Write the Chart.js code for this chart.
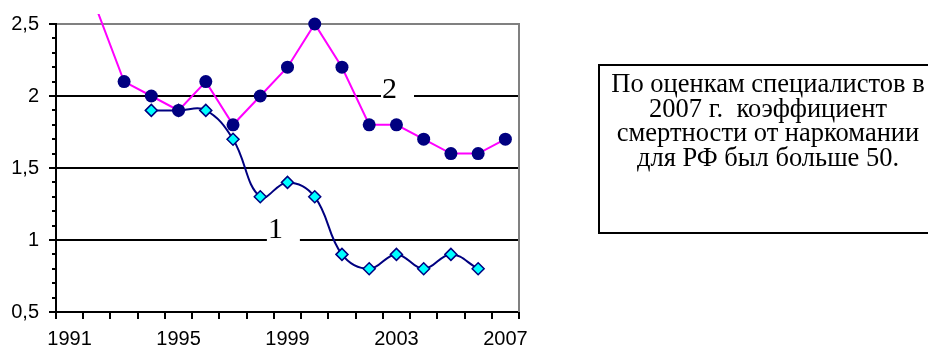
<!DOCTYPE html>
<html><head><meta charset="utf-8">
<script src="https://cdn.jsdelivr.net/npm/chart.js@4/dist/chart.umd.min.js"></script>
<style>
html,body{margin:0;padding:0;background:#fff;width:928px;height:353px;overflow:hidden;}
#wrap{position:absolute;left:0;top:0;width:928px;height:353px;}
#note{position:absolute;left:598px;top:64px;width:340px;height:170px;box-sizing:border-box;border:2px solid #000;
font-family:"Liberation Serif","Times New Roman",serif;font-size:26.5px;line-height:24.5px;text-align:center;padding-top:5px;color:#000;white-space:nowrap;}
</style></head>
<body>
<div id="wrap"><canvas id="c" width="928" height="353"></canvas></div>
<div id="note">По оценкам специалистов в<br>2007 г.&nbsp; коэффициент<br>смертности от наркомании<br>для РФ был больше 50.</div>
<script>
const years = ['1991','1992','1993','1994','1995','1996','1997','1998','1999','2000','2001','2002','2003','2004','2005','2006','2007'];
const series1 = [null,null,null,1.9,1.9,1.9,1.7,1.3,1.4,1.3,0.9,0.8,0.9,0.8,0.9,0.8,null];
const series2 = [null,2.6,2.1,2.0,1.9,2.1,1.8,2.0,2.2,2.5,2.2,1.8,1.8,1.7,1.6,1.6,1.7];
const xTickYears = ['1991','1995','1999','2003','2007'];
const yMajorTicks = [0.5,1,1.5,2,2.5];
const lineNames = ['1','2'];
const lineNameAnchors = [[7.28,1.014],[11.47,1.986]];

const isMajor = v => yMajorTicks.some(m => Math.abs(m - v) < 1e-6);
const fmt = v => String(Math.round(v*10)/10).replace('.', ',');

const extras = {
  id: 'extras',
  beforeDatasetsDraw(chart) {
    const {ctx, scales: {x, y}} = chart;
    ctx.save();
    ctx.font = '30px "Liberation Serif"';
    ctx.textAlign = 'left';
    ctx.textBaseline = 'alphabetic';
    lineNames.forEach((t, i) => {
      const px = x.getPixelForValue(lineNameAnchors[i][0]);
      const py = y.getPixelForValue(lineNameAnchors[i][1]);
      ctx.fillStyle = '#fff';
      ctx.fillRect(px - 1, py - 26, 33, 32);
      ctx.fillStyle = '#000';
      ctx.fillText(t, px, py);
    });
    ctx.restore();
  },
  afterDraw(chart) {
    const {ctx, chartArea: a, scales: {y}} = chart;
    ctx.save();
    ctx.strokeStyle = '#000';
    ctx.lineWidth = 2;
    y.ticks.forEach(t => {
      if (!isMajor(t.value)) {
        const py = Math.round(y.getPixelForValue(t.value));
        ctx.beginPath(); ctx.moveTo(a.left - 4, py); ctx.lineTo(a.left, py); ctx.stroke();
      }
    });
    ctx.strokeStyle = '#808080';
    ctx.beginPath(); ctx.moveTo(a.right, a.top - 1); ctx.lineTo(a.right, a.bottom); ctx.stroke();
    ctx.restore();
  }
};

new Chart(document.getElementById('c'), {
  type: 'line',
  data: {
    labels: years,
    datasets: [
      {
        data: series2,
        borderColor: '#FF00FF', borderWidth: 2, tension: 0,
        pointStyle: 'circle', pointRadius: 6.5, pointHoverRadius: 6.5,
        pointBackgroundColor: '#000080', pointBorderColor: '#000080', pointBorderWidth: 0,
        clip: {left: 0, top: 10, right: 0, bottom: 0}
      },
      {
        data: series1,
        borderColor: '#000080', borderWidth: 2, tension: 0.4,
        pointStyle: 'rectRot', pointRadius: 6, pointHoverRadius: 6,
        pointBackgroundColor: '#00FFFF', pointBorderColor: '#000080', pointBorderWidth: 1.5
      }
    ]
  },
  options: {
    responsive: false, animation: false, devicePixelRatio: 1,
    layout: {padding: {left: 0, top: 24, right: 409, bottom: 0}},
    plugins: {legend: {display: false}, tooltip: {enabled: false}},
    events: [],
    scales: {
      x: {
        type: 'category', offset: true,
        grid: {offset: true, drawOnChartArea: false, drawTicks: true, tickLength: 7, color: '#000', lineWidth: 2},
        border: {color: '#000', width: 2},
        ticks: {
          autoSkip: false, maxRotation: 0, minRotation: 0, padding: 8, color: '#000',
          font: {family: 'Liberation Sans', size: 20},
          callback: function(v) { const l = this.getLabelForValue(v); return xTickYears.includes(l) ? l : ''; }
        },
        afterFit: s => { s.height = 41; }
      },
      y: {
        type: 'linear', min: 0.5, max: 2.5,
        grid: {
          lineWidth: 2, tickLength: 7, tickWidth: 2,
          color: c => (c.tick && isMajor(c.tick.value)) ? (Math.abs(c.tick.value - 2.5) < 1e-6 ? '#808080' : '#000') : 'rgba(0,0,0,0)',
          tickColor: c => (c.tick && isMajor(c.tick.value)) ? '#000' : 'rgba(0,0,0,0)'
        },
        border: {color: '#000', width: 2},
        ticks: {
          stepSize: 0.1, autoSkip: false, maxTicksLimit: 100, padding: 10, color: '#000',
          font: {family: 'Liberation Sans', size: 20},
          callback: v => isMajor(v) ? fmt(v) : ''
        },
        afterFit: s => { s.width = 56; }
      }
    }
  },
  plugins: [extras]
});
</script>
</body></html>
